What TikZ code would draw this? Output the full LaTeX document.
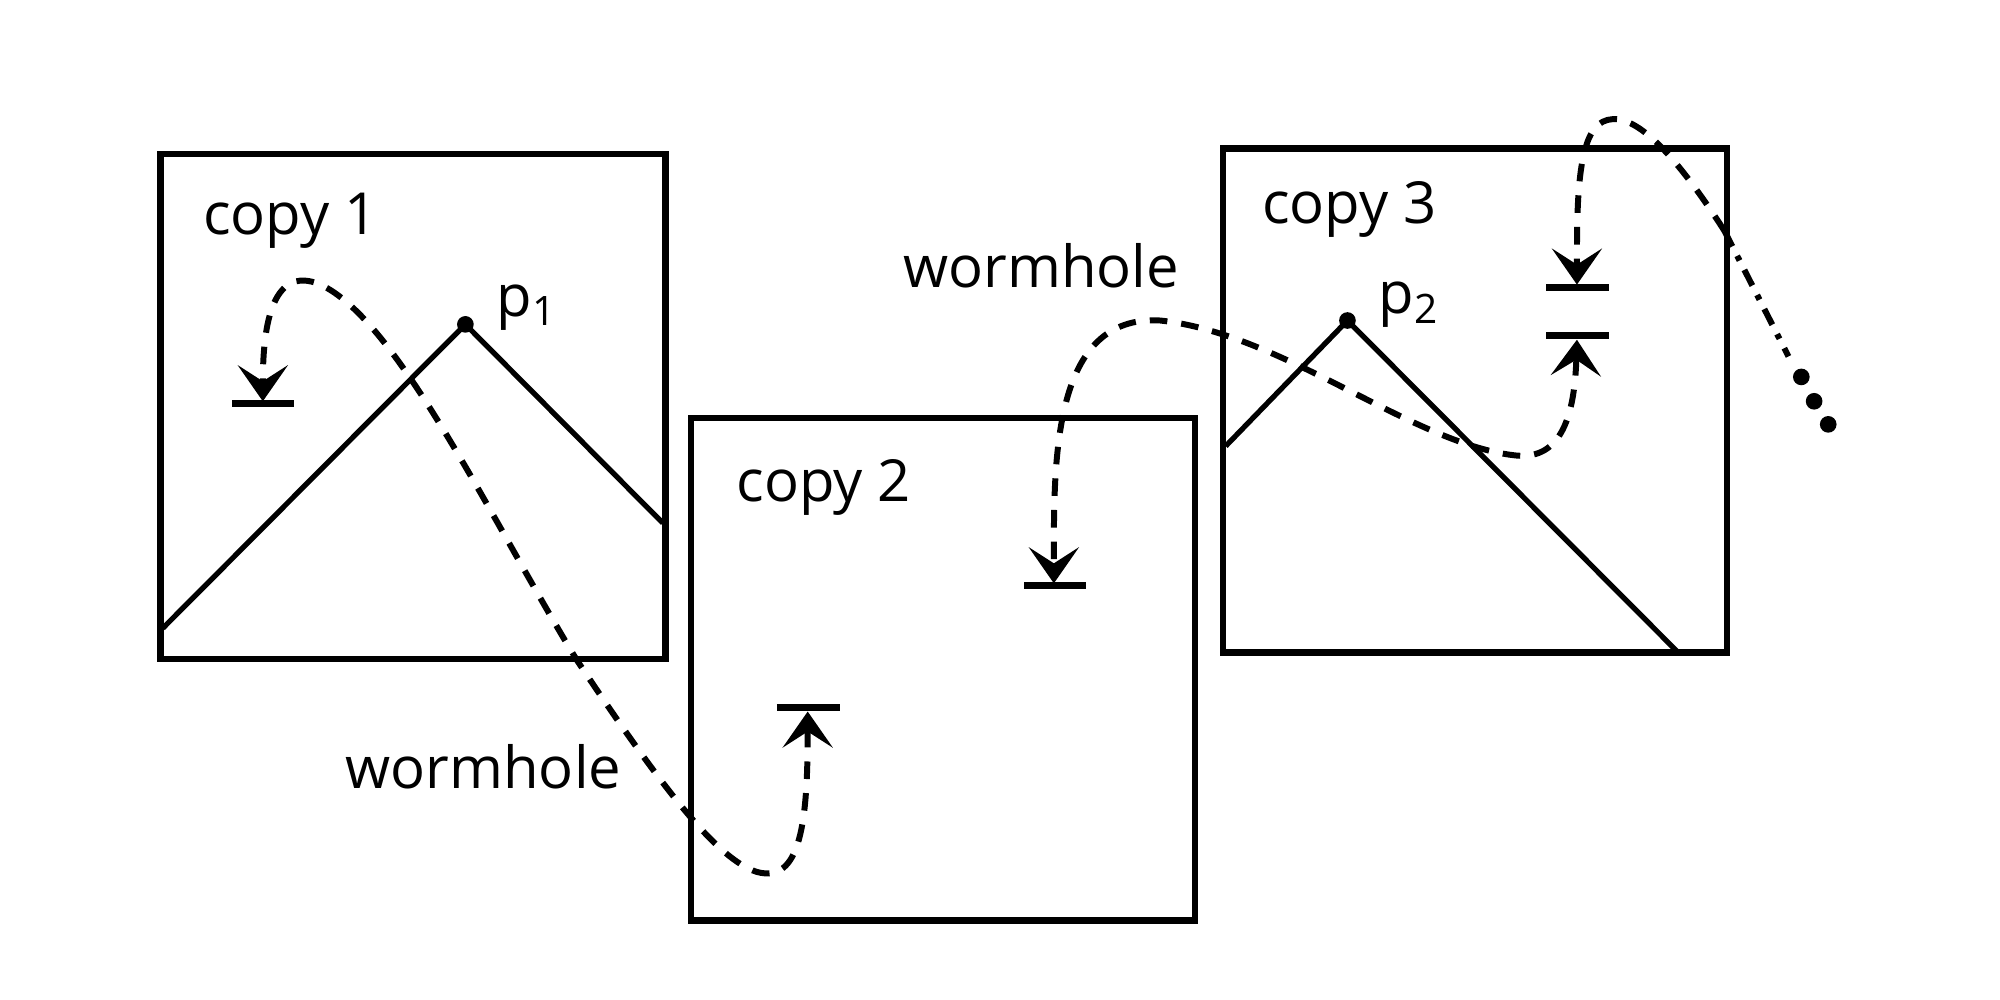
\documentclass[tikz,border=0pt]{standalone}
\usepackage{fontspec}
\setmainfont{Open Sans}
\usetikzlibrary{arrows.meta}
\tikzset{>=stealth}
\tikzset{
  copybox/.style={line width=1.9pt},
  ridge/.style={line width=1.5pt},
  hole/.style={line width=2pt},
  worm/.style={line width=1.7pt, dash pattern=on 5pt off 4pt},
  wtip/.style={{Stealth[length=3.6mm,width=5mm,inset=1.6mm]}-{Stealth[length=3.6mm,width=5mm,inset=1.6mm]}},
  lbl/.style={font=\fontsize{16.5}{18}\selectfont, inner sep=0pt},
}
\begin{document}
\begin{tikzpicture}[x=0.01282cm, y=-0.01282cm]
  \useasboundingbox (0,0) rectangle (1560,780);
  % the three copies
  \draw[copybox] (125,120) rectangle (519,514);
  \draw[copybox] (539,326) rectangle (932,718);
  \draw[copybox] (954,116) rectangle (1347,509);
  \node[lbl, anchor=west] (c1) at (158,172) {copy 1};
  \node[lbl, anchor=west] (c2) at (574,380) {copy 2};
  \node[lbl, anchor=west] (c3) at (984,163) {copy 3};
  % mountains
  \coordinate (p1) at (363,253);
  \coordinate (p2) at (1051,250);
  \draw[ridge] (127,490) -- (p1) -- (517,408);
  \draw[ridge] (956,348) -- (p2) -- (1309,509);
  \fill (p1) circle (6.5);
  \fill (p2) circle (6.5);
  \node[lbl, anchor=west] (l1) at (387,240) {p\textsubscript{1}};
  \node[lbl, anchor=west] (l2) at (1075,238) {p\textsubscript{2}};
  % wormhole mouths
  \coordinate (m1a) at (181,315); \coordinate (m1b) at (229,315);
  \coordinate (m2a) at (606,552); \coordinate (m2b) at (655,552);
  \coordinate (m3a) at (799,457); \coordinate (m3b) at (847,457);
  \coordinate (m4a) at (1206,262); \coordinate (m4b) at (1255,262);
  \coordinate (m5a) at (1206,224); \coordinate (m5b) at (1255,224);
  \foreach \m in {1,...,5}
    \draw[hole] (m\m a) -- (m\m b);
  % first wormhole
  \draw[worm, wtip] (630,555) .. controls (630,640) and (625,690) .. (590,680)
    .. controls (560,670) and (520,620) .. (450,515)
    .. controls (380,400) and (310,250) .. (250,222)
    .. controls (210,205) and (205,260) .. (205,313);
  \node[lbl, anchor=west] (w1) at (269,598) {wormhole};
  % second wormhole
  \draw[worm, wtip] (1230,265) .. controls (1228,330) and (1215,360) .. (1180,355)
    .. controls (1100,345) and (1000,260) .. (905,250)
    .. controls (820,245) and (822,360) .. (822,455);
  \node[lbl, anchor=west] (w2) at (704,207) {wormhole};
  % onward
  \draw[worm, -{Stealth[length=3.6mm,width=5mm,inset=1.6mm]}] (1345,180) .. controls (1300,110) and (1270,85) .. (1250,95)
    .. controls (1230,105) and (1230,160) .. (1230,222);
  \draw[line width=1.7pt, dash pattern=on 5pt off 3pt on 1.5pt off 3pt] (1345,180) -- (1395,278);
  \foreach \x/\y in {1405/294,1415/313,1426/331}
    \fill (\x,\y) circle (6.5);
\end{tikzpicture}
\end{document}
